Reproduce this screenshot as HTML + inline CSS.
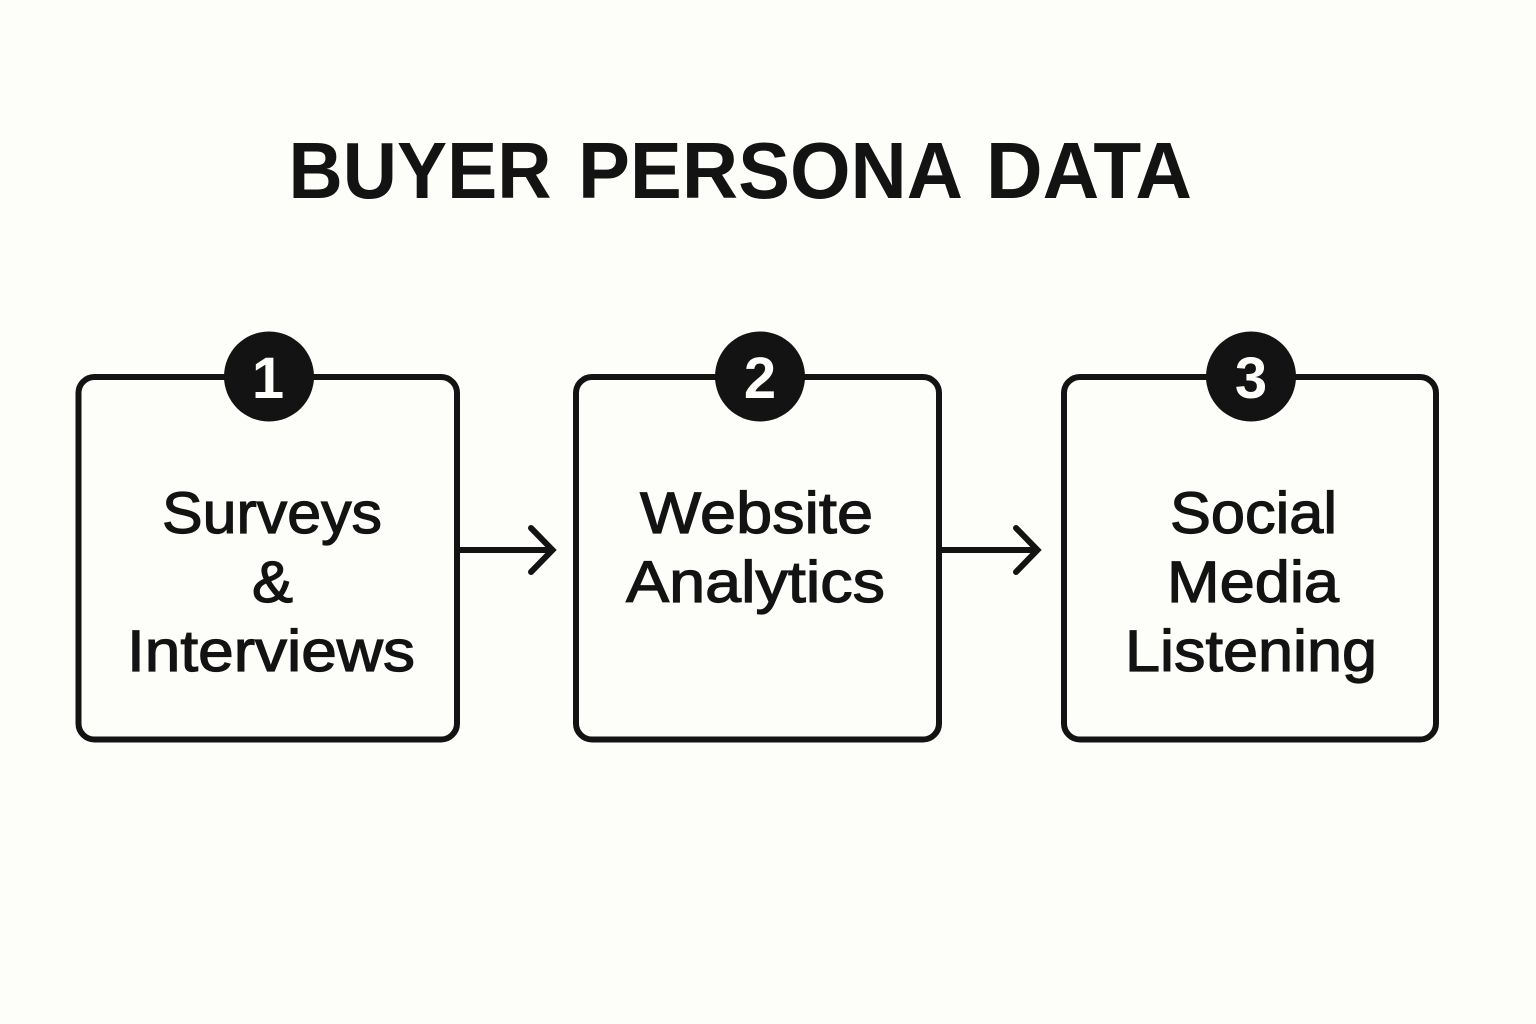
<!DOCTYPE html>
<html>
<head>
<meta charset="utf-8">
<style>
html,body{margin:0;padding:0;background:#fdfdfa;}
svg{display:block;}
text{font-family:"Liberation Sans",sans-serif;fill:#131313;}
</style>
</head>
<body>
<svg width="1536" height="1024" viewBox="0 0 1536 1024" xmlns="http://www.w3.org/2000/svg">
<rect width="1536" height="1024" fill="#fdfdfa"/>
<g font-size="80" font-weight="700">
<text x="288.5" y="198" textLength="263" lengthAdjust="spacingAndGlyphs">BUYER</text>
<text x="578" y="198" textLength="385" lengthAdjust="spacingAndGlyphs">PERSONA</text>
<text x="986" y="198" textLength="206" lengthAdjust="spacingAndGlyphs">DATA</text>
</g>

<g fill="none" stroke="#131313" stroke-width="6">
<rect x="78.5" y="377" width="378.5" height="362.5" rx="16"/>
<rect x="576" y="377" width="363" height="362.5" rx="16"/>
<rect x="1064" y="377" width="372" height="362.5" rx="16"/>
<path d="M459 550H552"/>
<path d="M531 528L552.5 550L531 572" stroke-linejoin="miter" stroke-linecap="round"/>
<path d="M942 550H1037"/>
<path d="M1016 528L1037.5 550L1016 572" stroke-linejoin="miter" stroke-linecap="round"/>
</g>

<circle cx="269" cy="376.5" r="45" fill="#131313"/>
<circle cx="760" cy="376.5" r="45" fill="#131313"/>
<circle cx="1251" cy="376.5" r="45" fill="#131313"/>
<g font-size="58" font-weight="700" text-anchor="middle">
<text x="268" y="398" style="fill:#fdfdfa">1</text>
<text x="760" y="398" style="fill:#fdfdfa">2</text>
<text x="1251" y="398" style="fill:#fdfdfa">3</text>
</g>

<g font-size="58" font-weight="400" stroke="#131313" stroke-width="1.2">
<text x="162" y="533" textLength="220" lengthAdjust="spacingAndGlyphs">Surveys</text>
<text x="252" y="602" textLength="41" lengthAdjust="spacingAndGlyphs">&amp;</text>
<text x="127" y="671" textLength="288" lengthAdjust="spacingAndGlyphs">Interviews</text>
<text x="640" y="533" textLength="233" lengthAdjust="spacingAndGlyphs">Website</text>
<text x="626" y="602" textLength="259" lengthAdjust="spacingAndGlyphs">Analytics</text>
<text x="1170" y="533" textLength="167" lengthAdjust="spacingAndGlyphs">Social</text>
<text x="1167" y="602" textLength="172" lengthAdjust="spacingAndGlyphs">Media</text>
<text x="1125" y="671" textLength="252" lengthAdjust="spacingAndGlyphs">Listening</text>
</g>
</svg>
</body>
</html>
